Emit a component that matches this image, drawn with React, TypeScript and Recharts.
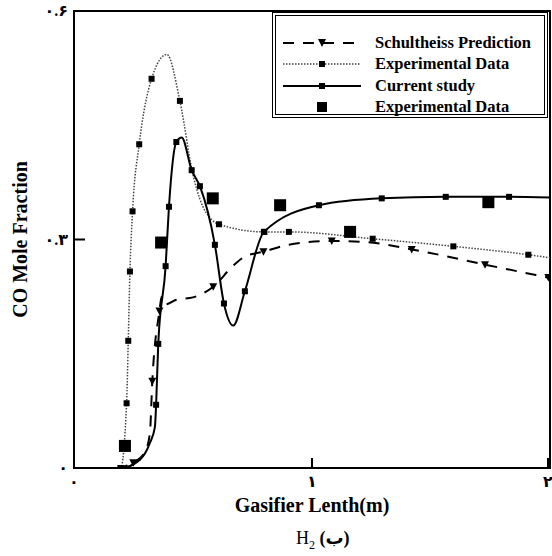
import React from "react";
import {
  ComposedChart,
  Line,
  Scatter,
  XAxis,
  YAxis,
  Legend,
  ReferenceArea,
} from "recharts";

// dotted experimental curve (small squares)
const expLineX = [0.18, 0.196, 0.221, 0.228, 0.235, 0.246, 0.274, 0.326, 0.39, 0.445, 0.5, 0.529, 0.579, 0.609, 0.8, 0.903, 1.255, 1.594, 1.909, 2.0];
const expLineY = [0.0, 0.0, 0.085, 0.167, 0.258, 0.337, 0.425, 0.511, 0.543, 0.482, 0.385, 0.353, 0.326, 0.32, 0.31, 0.31, 0.301, 0.291, 0.28, 0.276];
const expLineMarks = [false, true, true, true, true, true, true, true, false, true, false, false, false, true, true, true, true, true, true, false];

// current study (solid)
const currentX = [0.15, 0.196, 0.277, 0.319, 0.34, 0.345, 0.354, 0.385, 0.399, 0.43, 0.4525, 0.4945, 0.529, 0.592, 0.63, 0.669, 0.718, 0.798, 1.029, 1.293, 1.562, 1.828, 2.0];
const currentY = [0.0, 0.0, 0.011, 0.033, 0.054, 0.083, 0.163, 0.265, 0.343, 0.428, 0.434, 0.391, 0.37, 0.293, 0.216, 0.187, 0.232, 0.31, 0.345, 0.354, 0.356, 0.356, 0.355];
const currentMarks = [false, true, false, false, false, true, true, true, true, true, false, true, true, true, true, false, true, true, true, true, true, true, false];

// Schultheiss prediction (dashed, triangles)
const schX = [0.18, 0.249, 0.298, 0.319, 0.329, 0.359, 0.368, 0.385, 0.43, 0.5, 0.585, 0.67, 0.72, 0.796, 0.9, 1.083, 1.214, 1.419, 1.727, 1.993];
const schY = [0.0, 0.007, 0.021, 0.046, 0.114, 0.206, 0.225, 0.215, 0.221, 0.224, 0.238, 0.266, 0.278, 0.284, 0.293, 0.298, 0.297, 0.287, 0.267, 0.25];
const schMarks = [false, true, false, false, true, true, false, false, false, false, true, false, false, true, false, true, false, true, true, true];

// experimental data (big squares)
const expPointX = [0.214, 0.366, 0.583, 0.866, 1.16, 1.741];
const expPointY = [0.029, 0.296, 0.354, 0.345, 0.31, 0.349];

const xTicks = [0, 1, 2];
const xTickLabels = ["۰", "۱", "۲"];
const yTicks = [0, 0.3, 0.6];
const yTickLabels = ["۰", "۰.۳", "۰.۶"];

const legendItems = [
  { name: "Schultheiss Prediction", kind: "dash" },
  { name: "Experimental Data", kind: "dot" },
  { name: "Current study", kind: "solid" },
  { name: "Experimental Data", kind: "point" },
];

const build = (xs: number[], ys: number[], marks?: boolean[]) =>
  xs.map((x, i) => ({ x, y: ys[i], m: marks ? marks[i] : true }));

const expLine = build(expLineX, expLineY, expLineMarks);
const current = build(currentX, currentY, currentMarks);
const schultheiss = build(schX, schY, schMarks);
const expPoints = build(expPointX, expPointY);

const serif = "'Liberation Serif', 'DejaVu Serif', 'DejaVu Sans', serif";

const squareDot = (size: number) => (props: any) => {
  const { cx, cy, payload, index } = props;
  if (!payload || !payload.m) return <g key={`s${size}-${index}`} />;
  return <rect key={`s${size}-${index}`} x={cx - size / 2} y={cy - size / 2} width={size} height={size} fill="#000" />;
};

const triDot = (props: any) => {
  const { cx, cy, payload, index } = props;
  if (!payload || !payload.m) return <g key={`t-${index}`} />;
  return <path key={`t-${index}`} d={`M${cx - 4},${cy - 3.5} L${cx + 4},${cy - 3.5} L${cx},${cy + 4} Z`} fill="#000" />;
};

const YTick = (props: any) => {
  const { x, y, payload, index } = props;
  const ax = x + 6;
  return (
    <g>
      <text x={x} y={y} dy={5} textAnchor="end" fontSize={16} fontWeight="bold" fontFamily={serif} fill="#000">
        {yTickLabels[index] ?? payload.value}
      </text>
      <line x1={ax} x2={ax + 11} y1={y} y2={y} stroke="#000" strokeWidth={2} />
    </g>
  );
};

const XTick = (props: any) => {
  const { x, y, payload, index } = props;
  const ay = y - 8;
  return (
    <g>
      <text x={x} y={y} dy={11} textAnchor="middle" fontSize={16} fontWeight="bold" fontFamily={serif} fill="#000">
        {xTickLabels[index] ?? payload.value}
      </text>
      <line x1={x} x2={x} y1={ay} y2={ay - 10} stroke="#000" strokeWidth={2} />
    </g>
  );
};

const Sample = ({ kind }: { kind: string }) => (
  <svg width={78} height={14} style={{ display: "block" }}>
    {kind === "dash" && <line x1={0} x2={78} y1={7} y2={7} stroke="#000" strokeWidth={2} strokeDasharray="11 9" />}
    {kind === "dash" && <path d="M35,3 L43,3 L39,11 Z" fill="#000" />}
    {kind === "dot" && <line x1={0} x2={78} y1={7} y2={7} stroke="#444" strokeWidth={1.5} strokeDasharray="1.5 1.5" />}
    {kind === "solid" && <line x1={0} x2={78} y1={7} y2={7} stroke="#000" strokeWidth={2} />}
    {(kind === "dot" || kind === "solid") && <rect x={36} y={4} width={6} height={6} fill="#000" />}
    {kind === "point" && <rect x={34} y={2} width={10} height={10} fill="#000" />}
  </svg>
);

const LegendBox = () => (
  <div
    style={{
      boxSizing: "border-box",
      width: 276,
      height: 106,
      border: "4px double #000",
      background: "#fff",
      paddingTop: 16,
      fontFamily: serif,
      fontWeight: "bold",
      fontSize: 16.5,
    }}
  >
    {legendItems.map((it, i) => (
      <div key={i} style={{ display: "flex", alignItems: "center", height: 21.5 }}>
        <div style={{ marginLeft: 7, width: 78 }}>
          <Sample kind={it.kind} />
        </div>
        <span style={{ marginLeft: 14, whiteSpace: "nowrap" }}>{it.name}</span>
      </div>
    ))}
  </div>
);

export default function App() {
  return (
    <div style={{ position: "absolute", left: 0, top: 0, width: 552, height: 556, background: "#fff" }}>
      <ComposedChart width={552} height={556} margin={{ top: 11, right: 2, bottom: 44, left: 14 }}>
        <XAxis
          dataKey="x"
          type="number"
          domain={[0, 2]}
          ticks={xTicks}
          tickSize={0}
          tickMargin={8}
          tick={<XTick />}
          axisLine={{ stroke: "#000", strokeWidth: 2 }}
          height={44}
          allowDataOverflow
          label={{
            value: "Gasifier Lenth(m)",
            position: "insideBottom",
            offset: 0,
            style: { fontFamily: serif, fontWeight: "bold", fontSize: 20, fill: "#000" },
          }}
        />
        <YAxis
          dataKey="y"
          type="number"
          domain={[0, 0.6]}
          ticks={yTicks}
          tickSize={0}
          tickMargin={6}
          tick={<YTick />}
          axisLine={{ stroke: "#000", strokeWidth: 2 }}
          width={60}
          allowDataOverflow
          label={{
            value: "CO Mole Fraction",
            angle: -90,
            position: "insideLeft",
            offset: 6,
            style: { textAnchor: "middle", fontFamily: serif, fontWeight: "bold", fontSize: 20, fill: "#000" },
          }}
        />
        <ReferenceArea x1={0} x2={2} y1={0} y2={0.6} fill="none" stroke="#000" strokeWidth={2} ifOverflow="visible" />
        <Line
          data={expLine}
          dataKey="y"
          type="monotone"
          stroke="#444"
          strokeWidth={1.5}
          strokeDasharray="1.5 1.5"
          dot={squareDot(6)}
          activeDot={false}
          isAnimationActive={false}
        />
        <Line
          data={schultheiss}
          dataKey="y"
          type="monotone"
          stroke="#000"
          strokeWidth={2}
          strokeDasharray="11 9"
          dot={triDot}
          activeDot={false}
          isAnimationActive={false}
        />
        <Line
          data={current}
          dataKey="y"
          type="monotone"
          stroke="#000"
          strokeWidth={2}
          dot={squareDot(6)}
          activeDot={false}
          isAnimationActive={false}
        />
        <Scatter
          data={expPoints}
          dataKey="y"
          shape={(p: any) => <rect x={p.cx - 6} y={p.cy - 6} width={12} height={12} fill="#000" />}
          isAnimationActive={false}
        />
        <Legend
          layout="horizontal"
          verticalAlign="middle"
          content={<LegendBox />}
          wrapperStyle={{ left: 272, top: 12, width: 276, height: 106 }}
        />
      </ComposedChart>
      <div
        style={{
          position: "absolute",
          left: 296,
          top: 527,
          fontFamily: serif,
          fontSize: 18,
          color: "#000",
          whiteSpace: "nowrap",
        }}
      >
        H<sub style={{ fontSize: 12 }}>2</sub> <b>(ب)</b>
      </div>
    </div>
  );
}
